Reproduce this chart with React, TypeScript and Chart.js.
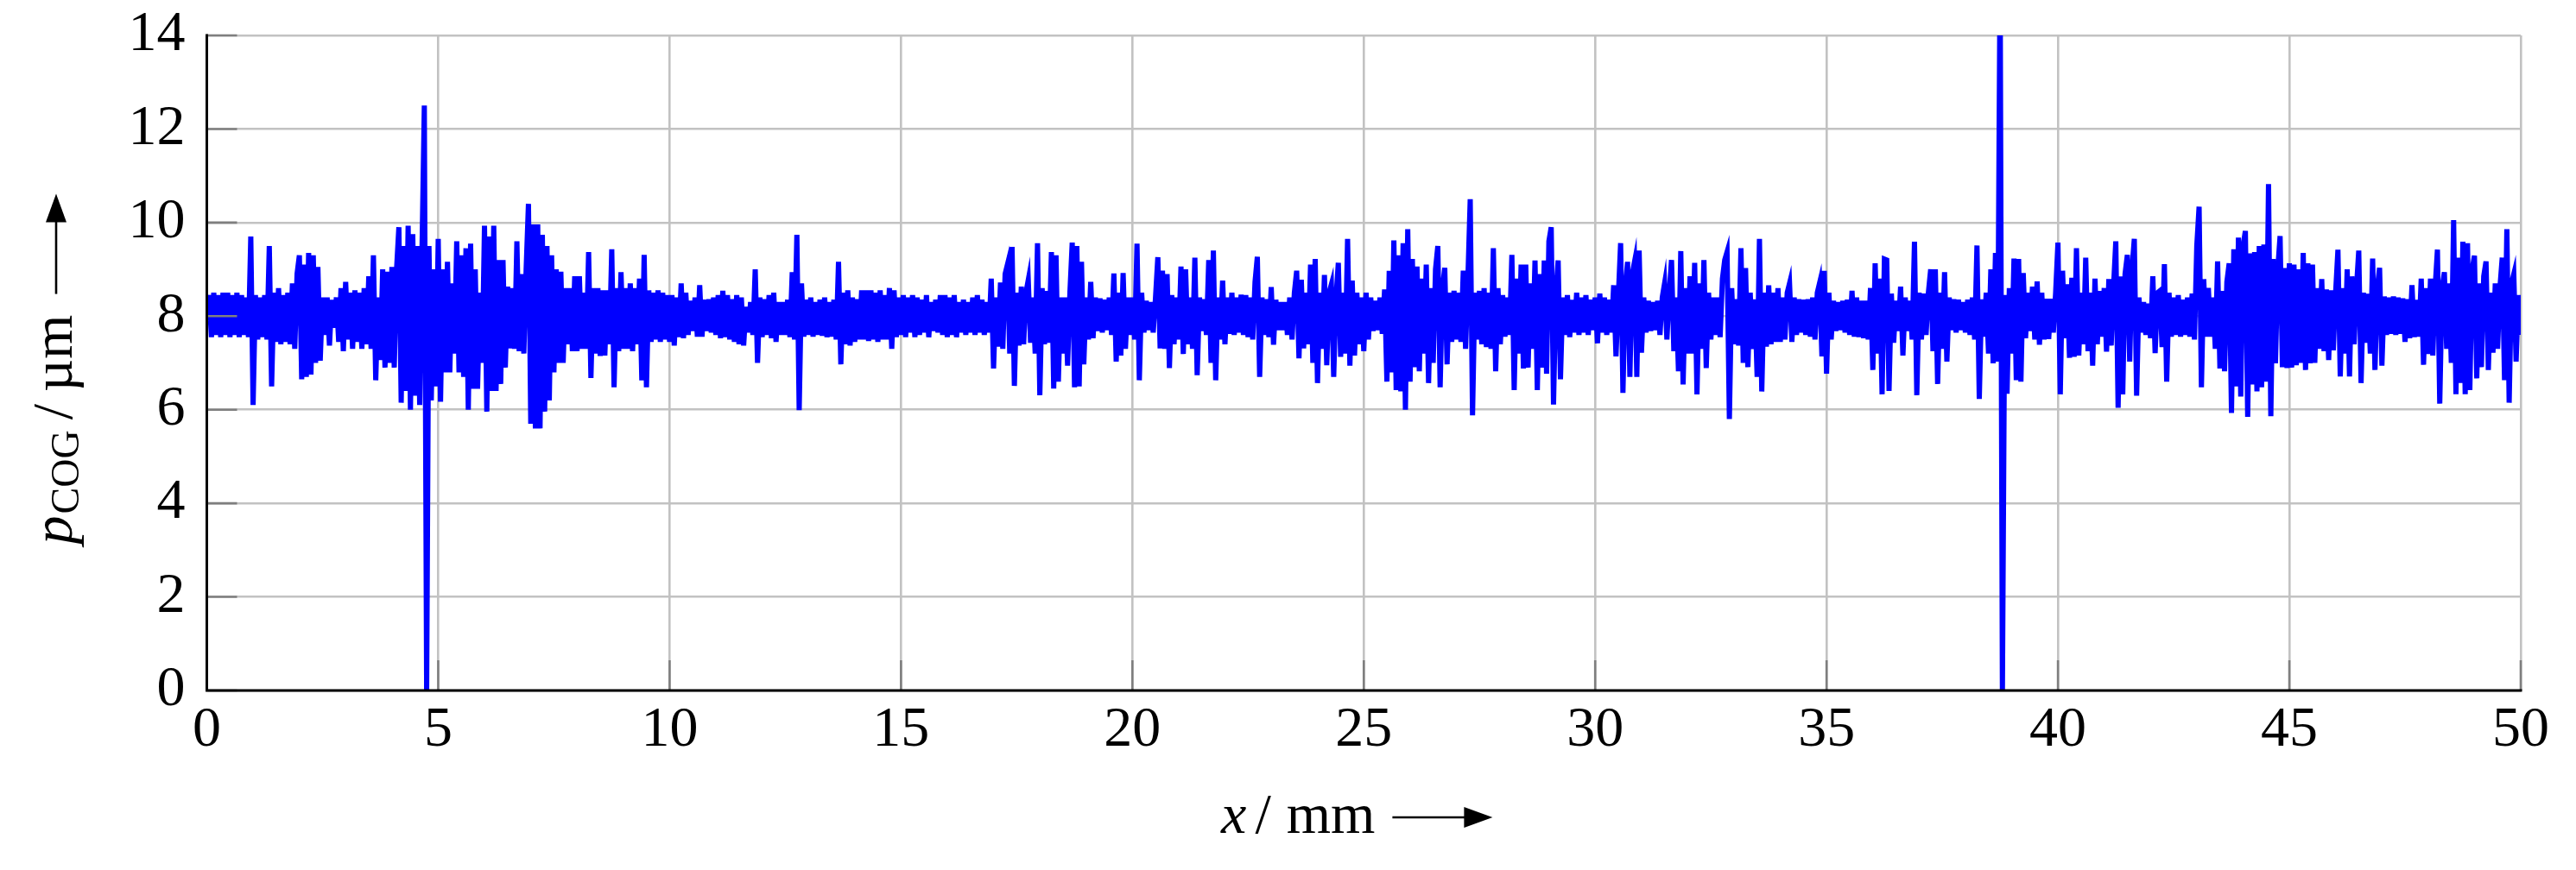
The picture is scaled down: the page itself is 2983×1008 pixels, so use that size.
import React, { useEffect, useRef } from "react";
import { Chart, registerables } from "chart.js";

Chart.register(...registerables);

// sample spacing along x (mm)
const STEP = 0.05;
const X_MIN = 0;
const X_MAX = 50;
const X_STEP = 5;
const Y_MIN = 0;
const Y_MAX = 14;
const Y_STEP = 2;

// p_COG values (µm), one value every 0.05 mm
const seg00 = [ // x 0.00 – 4.95
  7.9, 8.45, 7.55, 8.5, 7.6, 8.45, 7.55, 8.5, 7.6, 8.5,
  7.55, 8.45, 7.6, 8.5, 7.55, 8.45, 7.6, 8.4, 7.55, 9.7,
  6.1, 8.45, 7.5, 8.4, 7.55, 8.45, 7.5, 9.5, 6.5, 8.5,
  7.45, 8.6, 7.4, 8.45, 7.45, 8.5, 7.4, 8.7, 7.3, 8.9,
  9.3, 6.65, 9.1, 6.7, 9.35, 6.75, 9.3, 7.0, 9.05, 7.05,
  8.4, 7.6, 8.4, 7.37, 8.35, 7.75, 8.4, 7.45, 8.6, 7.25,
  8.73, 7.5, 8.5, 7.3, 8.55, 7.45, 8.5, 7.3, 8.6, 7.4,
  8.85, 7.3, 9.3, 6.63, 8.4, 7.06, 9.0, 6.9, 8.95, 7.0,
  9.05, 6.9, 9.0, 9.9, 6.15, 9.5, 6.4, 9.93, 6.0, 9.75,
  6.3, 9.5, 6.1, 9.4, 12.5, 0, 9.5, 6.2, 9.0, 6.5,
];
const seg05 = [ // x 5.00 – 9.95
  9.65, 6.17, 9.0, 6.8, 9.16, 6.8, 8.7, 7.2, 9.6, 6.8,
  9.3, 6.7, 9.45, 6.0, 9.55, 6.45, 9.0, 6.45, 8.5, 7.0,
  9.93, 5.96, 9.7, 6.4, 9.93, 6.4, 9.2, 6.55, 9.2, 6.9,
  8.63, 7.31, 8.6, 7.3, 9.6, 7.25, 8.9, 7.2, 9.0, 10.4,
  5.7, 9.96, 5.6, 9.96, 5.6, 9.74, 5.96, 9.5, 6.2, 9.3,
  6.8, 9.0, 7.0, 8.95, 7.0, 8.6, 7.4, 8.6, 7.25, 8.85,
  7.25, 8.85, 7.3, 8.5, 7.3, 9.37, 6.68, 8.6, 7.2, 8.6,
  7.15, 8.55, 7.16, 8.55, 7.4, 9.43, 6.48, 8.6, 7.25, 8.94,
  7.3, 8.6, 7.3, 8.7, 7.25, 8.6, 7.4, 8.8, 6.63, 9.31,
  6.48, 8.55, 7.45, 8.5, 7.5, 8.55, 7.45, 8.5, 7.5, 8.45,
];
const seg10 = [ // x 10.00 – 14.95
  7.45, 8.45, 7.37, 8.4, 7.55, 8.7, 7.53, 8.5, 7.6, 8.33,
  7.68, 8.4, 7.56, 8.66, 7.56, 8.35, 7.68, 8.36, 7.65, 8.4,
  7.6, 8.45, 7.53, 8.54, 7.55, 8.45, 7.5, 8.36, 7.45, 8.45,
  7.4, 8.4, 7.37, 8.2, 7.65, 8.3, 7.6, 9.0, 7.0, 8.4,
  7.55, 8.36, 7.6, 8.45, 7.53, 8.5, 7.45, 8.3, 7.6, 8.3,
  7.6, 8.35, 7.55, 8.94, 7.5, 9.74, 5.99, 8.7, 7.56, 8.35,
  7.6, 8.4, 7.56, 8.3, 7.6, 8.35, 7.58, 8.4, 7.55, 8.3,
  7.56, 8.35, 7.5, 9.16, 6.97, 8.5, 7.4, 8.55, 7.37, 8.4,
  7.45, 8.36, 7.5, 8.55, 7.5, 8.55, 7.47, 8.55, 7.5, 8.5,
  7.45, 8.55, 7.5, 8.45, 7.5, 8.6, 7.3, 8.55, 7.55, 8.4,
];
const seg15 = [ // x 15.00 – 19.95
  7.6, 8.45, 7.55, 8.4, 7.65, 8.45, 7.55, 8.4, 7.6, 8.35,
  7.65, 8.45, 7.55, 8.3, 7.68, 8.35, 7.65, 8.45, 7.6, 8.45,
  7.55, 8.4, 7.6, 8.45, 7.55, 8.3, 7.65, 8.35, 7.6, 8.3,
  7.65, 8.4, 7.6, 8.45, 7.65, 8.35, 7.6, 8.3, 7.65, 8.8,
  6.88, 8.4, 7.35, 8.72, 7.3, 8.9, 9.1, 7.2, 9.48, 6.51,
  8.5, 7.37, 8.63, 7.4, 8.5, 8.77, 7.43, 8.4, 7.2, 9.56,
  6.31, 8.6, 7.4, 8.54, 7.43, 9.37, 6.45, 9.3, 6.6, 8.4,
  7.2, 8.4, 6.94, 8.5, 9.57, 6.48, 9.5, 6.5, 9.16, 6.97,
  8.4, 7.5, 8.73, 7.53, 8.4, 7.68, 8.38, 7.65, 8.35, 7.7,
  8.4, 7.6, 8.91, 7.03, 8.5, 7.16, 8.92, 7.3, 8.4, 7.6,
];
const seg20 = [ // x 20.00 – 24.95
  8.4, 7.5, 9.55, 6.63, 8.5, 7.65, 8.33, 7.7, 8.3, 7.65,
  8.4, 9.26, 7.31, 8.97, 7.3, 8.9, 6.89, 8.45, 7.4, 8.4,
  7.5, 9.06, 7.19, 9.0, 7.4, 8.4, 7.3, 9.25, 6.74, 8.4,
  7.68, 8.36, 7.6, 9.2, 7.0, 9.4, 6.63, 8.4, 7.5, 8.76,
  7.4, 8.4, 7.62, 8.5, 7.6, 8.4, 7.65, 8.46, 7.6, 8.45,
  7.55, 8.4, 7.5, 8.73, 9.27, 6.7, 8.4, 7.6, 8.36, 7.55,
  8.62, 7.39, 8.35, 7.7, 8.3, 7.7, 8.3, 7.6, 8.4, 7.5,
  8.5, 8.97, 7.1, 8.78, 7.31, 8.5, 7.4, 9.1, 7.0, 9.22,
  6.57, 8.5, 7.3, 8.88, 6.95, 8.5, 8.68, 6.7, 8.4, 9.14,
  7.13, 8.5, 7.2, 9.65, 6.94, 8.76, 7.16, 8.5, 7.4, 8.4,
];
const seg25 = [ // x 25.00 – 29.95
  7.25, 8.5, 7.5, 8.4, 7.68, 8.33, 7.7, 8.4, 7.62, 8.57,
  6.6, 8.97, 6.8, 9.62, 6.42, 9.3, 6.39, 9.56, 6.0, 9.86,
  6.6, 9.22, 6.91, 9.06, 6.82, 8.8, 7.2, 9.1, 6.57, 8.6,
  7.0, 9.0, 9.5, 6.48, 8.6, 9.03, 6.97, 8.5, 7.45, 8.54,
  7.5, 8.5, 7.45, 8.97, 7.3, 8.8, 10.5, 5.88, 8.5, 7.5,
  8.54, 7.4, 8.6, 7.34, 8.5, 7.3, 9.45, 6.82, 8.6, 7.4,
  8.45, 7.56, 8.4, 7.6, 9.31, 6.42, 8.8, 7.2, 9.1, 6.88,
  9.1, 6.9, 8.7, 7.3, 9.19, 6.42, 8.9, 6.9, 9.19, 6.77,
  9.6, 9.9, 6.11, 8.5, 9.19, 6.65, 8.4, 7.6, 8.45, 7.55,
  8.35, 7.65, 8.5, 7.6, 8.4, 7.65, 8.45, 7.6, 8.35, 7.7,
];
const seg30 = [ // x 30.00 – 34.95
  8.4, 7.42, 8.48, 7.65, 8.4, 7.6, 8.35, 7.65, 8.66, 7.14,
  8.4, 9.56, 6.36, 8.6, 9.16, 6.7, 8.9, 9.16, 6.7, 9.4,
  7.22, 8.4, 7.65, 8.33, 7.68, 8.3, 7.7, 8.33, 7.6, 8.4,
  8.7, 7.5, 8.5, 9.2, 7.25, 8.4, 6.82, 9.39, 6.54, 8.6,
  7.2, 8.85, 7.2, 9.14, 6.33, 8.7, 7.3, 9.2, 6.89, 8.5,
  7.5, 8.4, 7.6, 8.4, 7.55, 8.8, 9.2, 9.37, 5.8, 8.6,
  7.4, 8.36, 7.37, 9.45, 7.0, 9.03, 6.91, 8.5, 7.3, 8.36,
  6.7, 9.65, 6.39, 8.5, 7.35, 8.66, 7.4, 8.5, 7.45, 8.6,
  7.45, 8.4, 7.5, 8.5, 8.7, 7.45, 8.4, 7.6, 8.36, 7.65,
  8.35, 7.6, 8.36, 7.56, 8.4, 7.5, 8.5, 8.71, 7.14, 8.97,
];
const seg35 = [ // x 35.00 – 39.95
  6.77, 8.5, 7.5, 8.33, 7.68, 8.3, 7.7, 8.33, 7.65, 8.35,
  7.6, 8.54, 7.56, 8.4, 7.55, 8.33, 7.53, 8.33, 7.5, 8.6,
  6.85, 9.13, 7.2, 8.8, 6.33, 9.22, 9.2, 6.4, 8.48, 7.43,
  8.33, 7.68, 8.63, 7.16, 8.4, 7.68, 8.33, 7.5, 9.59, 6.31,
  8.5, 7.5, 8.48, 7.6, 8.5, 9.0, 7.25, 9.0, 6.55, 8.5,
  7.3, 8.94, 7.03, 8.4, 7.7, 8.36, 7.65, 8.35, 7.7, 8.3,
  7.65, 8.35, 7.6, 8.4, 7.5, 9.51, 6.23, 8.36, 7.56, 8.5,
  7.2, 9.0, 6.99, 9.35, 7.03, 15.5, 0, 8.45, 6.34, 8.6,
  7.2, 9.23, 6.63, 9.22, 6.6, 8.92, 7.53, 8.5, 7.68, 8.63,
  7.5, 8.74, 7.39, 8.5, 7.5, 8.37, 7.51, 8.37, 7.65, 8.5,
];
const seg40 = [ // x 40.00 – 44.95
  9.57, 6.33, 8.97, 7.53, 8.68, 7.11, 8.82, 7.13, 9.45, 7.16,
  8.5, 7.4, 9.25, 7.25, 8.5, 6.94, 8.8, 7.4, 8.54, 7.56,
  8.6, 7.24, 8.79, 7.37, 8.6, 9.6, 6.04, 8.85, 6.33, 8.9,
  9.31, 7.03, 9.0, 9.65, 6.3, 8.4, 7.65, 8.3, 7.6, 8.27,
  7.53, 8.85, 7.21, 8.5, 8.54, 7.34, 9.11, 6.6, 8.5, 7.56,
  8.4, 7.6, 8.45, 7.56, 8.35, 7.6, 8.4, 7.56, 8.48, 7.5,
  9.5, 10.34, 6.48, 8.79, 7.56, 8.6, 7.56, 8.4, 7.3, 9.17,
  6.88, 8.54, 6.82, 8.73, 9.13, 5.93, 9.43, 6.5, 9.68, 6.28,
  9.5, 9.82, 5.85, 9.34, 6.54, 9.37, 6.39, 9.5, 6.48, 9.53,
  6.6, 10.82, 5.86, 9.22, 6.99, 9.0, 9.71, 6.91, 9.03, 6.89,
];
const seg45 = [ // x 45.00 – 50.00
  9.13, 6.9, 9.1, 6.95, 9.0, 7.0, 9.35, 6.85, 9.13, 6.99,
  9.1, 7.0, 8.6, 7.3, 8.79, 7.25, 8.57, 7.06, 8.55, 7.27,
  8.5, 9.42, 6.71, 8.6, 7.2, 9.0, 6.71, 8.85, 7.4, 8.6,
  9.4, 6.57, 8.5, 7.43, 8.48, 7.2, 9.23, 6.85, 8.6, 9.03,
  6.94, 8.42, 7.6, 8.4, 7.62, 8.42, 7.6, 8.4, 7.62, 8.38,
  7.45, 8.36, 7.53, 8.66, 7.55, 8.35, 7.56, 8.8, 6.96, 8.6,
  7.19, 8.8, 7.16, 8.6, 9.42, 6.13, 8.6, 8.94, 7.3, 8.7,
  7.0, 10.05, 6.33, 9.25, 6.57, 9.59, 6.33, 9.56, 6.42, 9.0,
  9.29, 6.67, 8.7, 6.91, 8.85, 9.17, 6.85, 8.5, 7.22, 8.7,
  7.3, 8.6, 9.25, 6.63, 9.86, 6.15, 8.7, 8.9, 7.03, 8.45,
  7.6,
];

// start x (mm) of each block above
const SEGMENT_STARTS = [0, 5, 10, 15, 20, 25, 30, 35, 40, 45];
const SEGMENT_VALUES = [seg00, seg05, seg10, seg15, seg20, seg25, seg30, seg35, seg40, seg45];

const FONT = '"Liberation Serif", "DejaVu Serif", serif';
const TICK_SIZE = 66;

function buildPoints() {
  const pts: { x: number; y: number }[] = [];
  SEGMENT_VALUES.forEach((vals, k) => {
    vals.forEach((v, i) => {
      pts.push({ x: +(SEGMENT_STARTS[k] + i * STEP).toFixed(3), y: v });
    });
  });
  return pts;
}

function drawArrow(ctx: CanvasRenderingContext2D, x0: number, y: number, len: number) {
  const head = 33;
  ctx.beginPath();
  ctx.lineWidth = 2.6;
  ctx.strokeStyle = "#000";
  ctx.moveTo(x0, y);
  ctx.lineTo(x0 + len - head + 2, y);
  ctx.stroke();
  ctx.beginPath();
  ctx.fillStyle = "#000";
  ctx.moveTo(x0 + len, y);
  ctx.lineTo(x0 + len - head, y - 12);
  ctx.lineTo(x0 + len - head, y + 12);
  ctx.closePath();
  ctx.fill();
}

type Piece = { text: string; font: string; dy: number; gapBefore: number };

function drawPieces(ctx: CanvasRenderingContext2D, pieces: Piece[], start: number, baseY: number) {
  let x = start;
  for (const p of pieces) {
    x += p.gapBefore;
    ctx.font = p.font;
    ctx.fillText(p.text, x, baseY + p.dy);
    x += ctx.measureText(p.text).width;
  }
  return x;
}

function piecesWidth(ctx: CanvasRenderingContext2D, pieces: Piece[]) {
  let w = 0;
  for (const p of pieces) {
    ctx.font = p.font;
    w += p.gapBefore + ctx.measureText(p.text).width;
  }
  return w;
}

const decorPlugin = {
  id: "decor",
  afterDraw(chart: any) {
    const ctx: CanvasRenderingContext2D = chart.ctx;
    const a = chart.chartArea;
    const xs = chart.scales.x;
    const ys = chart.scales.y;
    ctx.save();

    // inner tick marks
    ctx.strokeStyle = "#7f7f7f";
    ctx.lineWidth = 2.6;
    for (let v = Y_MIN; v <= Y_MAX; v += Y_STEP) {
      const py = ys.getPixelForValue(v);
      ctx.beginPath();
      ctx.moveTo(a.left, py);
      ctx.lineTo(a.left + 35, py);
      ctx.stroke();
    }
    for (let v = X_MIN; v <= X_MAX; v += X_STEP) {
      const px = xs.getPixelForValue(v);
      ctx.beginPath();
      ctx.moveTo(px, a.bottom);
      ctx.lineTo(px, a.bottom - 35);
      ctx.stroke();
    }

    // axis lines (left and bottom)
    ctx.strokeStyle = "#000";
    ctx.lineWidth = 3;
    ctx.lineCap = "square";
    ctx.beginPath();
    ctx.moveTo(a.left, a.top);
    ctx.lineTo(a.left, a.bottom);
    ctx.lineTo(a.right, a.bottom);
    ctx.stroke();
    ctx.lineCap = "butt";

    ctx.fillStyle = "#000";
    ctx.textBaseline = "alphabetic";
    ctx.textAlign = "left";
    const main = `${TICK_SIZE}px ${FONT}`;
    const ital = `italic ${TICK_SIZE}px ${FONT}`;
    const sub = `46px ${FONT}`;
    const arrowGap = 20;
    const arrowLen = 116;

    // x-axis title: x / mm ->
    const xPieces: Piece[] = [
      { text: "x", font: ital, dy: 0, gapBefore: 0 },
      { text: "/", font: main, dy: 0, gapBefore: 10 },
      { text: "mm", font: main, dy: 0, gapBefore: 18 },
    ];
    const xw = piecesWidth(ctx, xPieces) + arrowGap + arrowLen;
    const xc = (a.left + a.right) / 2 - 8;
    const xStart = xc - xw / 2;
    const xBase = a.bottom + 165;
    const xEnd = drawPieces(ctx, xPieces, xStart, xBase);
    drawArrow(ctx, xEnd + arrowGap, xBase - 18, arrowLen);

    // y-axis title: p_COG / µm ->  (rotated)
    const yPieces: Piece[] = [
      { text: "p", font: ital, dy: 0, gapBefore: 0 },
      { text: "COG", font: sub, dy: 8, gapBefore: 2 },
      { text: "/", font: main, dy: 0, gapBefore: 12 },
      { text: "µm", font: main, dy: 0, gapBefore: 14 },
    ];
    const yw = piecesWidth(ctx, yPieces) + arrowGap + 4 + arrowLen;
    const yc = (a.top + a.bottom) / 2 + 7;
    ctx.translate(83, yc + yw / 2);
    ctx.rotate(-Math.PI / 2);
    const yEnd = drawPieces(ctx, yPieces, 0, 0);
    drawArrow(ctx, yEnd + arrowGap + 4, -18, arrowLen);

    ctx.restore();
  },
};

export default function App() {
  const ref = useRef<HTMLCanvasElement | null>(null);

  useEffect(() => {
    if (!ref.current) return;
    const chart = new Chart(ref.current, {
      type: "line",
      data: {
        datasets: [
          {
            data: buildPoints(),
            borderColor: "#0000ff",
            backgroundColor: "#0000ff",
            borderWidth: 6,
            pointRadius: 0,
            pointHoverRadius: 0,
            tension: 0,
            fill: false,
            clip: 0,
          },
        ],
      },
      options: {
        animation: false,
        responsive: false,
        devicePixelRatio: 1,
        events: [],
        layout: { padding: { top: 41, right: 64, left: 0, bottom: 0 } },
        plugins: {
          legend: { display: false },
          tooltip: { enabled: false },
          title: { display: false },
        },
        scales: {
          x: {
            type: "linear",
            min: X_MIN,
            max: X_MAX,
            grid: { color: "#c2c2c2", lineWidth: 2.6, drawTicks: false },
            border: { display: false },
            ticks: {
              stepSize: X_STEP,
              padding: 7,
              color: "#000",
              maxRotation: 0,
              font: { family: FONT, size: TICK_SIZE, lineHeight: 1.2 },
              callback: (v: any) => String(v),
            },
            afterFit: (s: any) => {
              s.height = 208;
            },
          },
          y: {
            type: "linear",
            min: Y_MIN,
            max: Y_MAX,
            grid: { color: "#c2c2c2", lineWidth: 2.6, drawTicks: false },
            border: { display: false },
            ticks: {
              stepSize: Y_STEP,
              padding: 25,
              color: "#000",
              font: { family: FONT, size: TICK_SIZE, lineHeight: 0.4 },
              callback: (v: any) => String(v),
            },
            afterFit: (s: any) => {
              s.width = 239.5;
            },
          },
        },
      },
      plugins: [decorPlugin],
    });
    return () => chart.destroy();
  }, []);

  return (
    <div style={{ position: "absolute", left: 0, top: 0, width: 2983, height: 1008, background: "#fff" }}>
      <canvas ref={ref} width={2983} height={1008} style={{ display: "block" }} />
    </div>
  );
}
